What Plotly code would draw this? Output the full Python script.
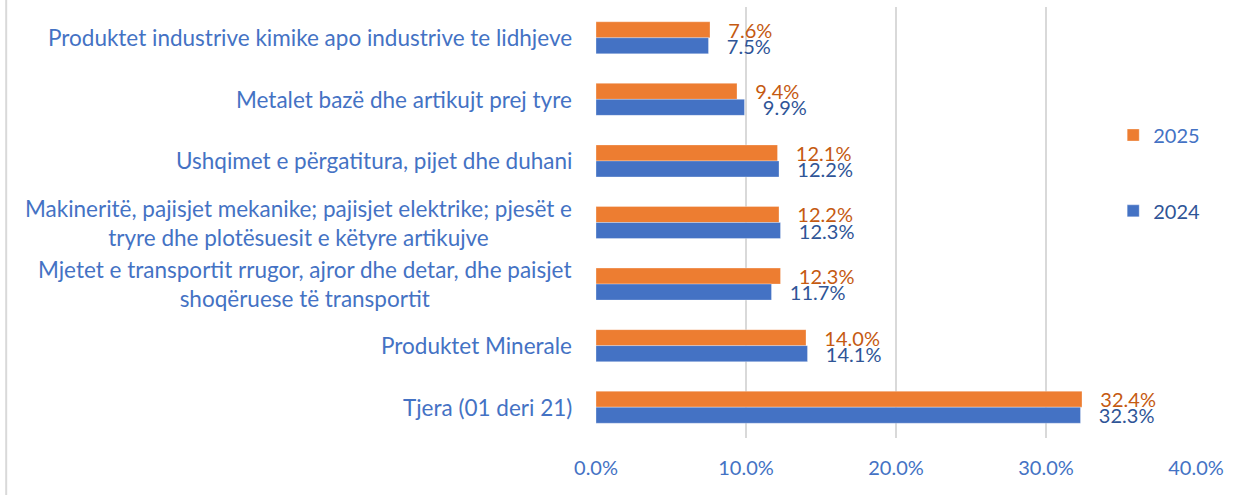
import plotly.graph_objects as go

categories = [
    "Produktet industrive kimike apo industrive te lidhjeve",
    "Metalet bazë dhe artikujt prej tyre",
    "Ushqimet e përgatitura, pijet dhe duhani",
    "Makineritë, pajisjet mekanike; pajisjet elektrike; pjesët e tryre dhe plotësuesit e këtyre artikujve",
    "Mjetet e transportit rrugor, ajror dhe detar, dhe paisjet shoqëruese të transportit",
    "Produktet Minerale",
    "Tjera (01 deri 21)",
]
category_labels = [
    "Produktet industrive kimike apo industrive te lidhjeve",
    "Metalet bazë dhe artikujt prej tyre",
    "Ushqimet e përgatitura, pijet dhe duhani",
    "Makineritë, pajisjet mekanike; pajisjet elektrike; pjesët e<br>tryre dhe plotësuesit e këtyre artikujve",
    "Mjetet e transportit rrugor, ajror dhe detar, dhe paisjet<br>shoqëruese të transportit",
    "Produktet Minerale",
    "Tjera (01 deri 21)",
]
values_2025 = [0.076, 0.094, 0.121, 0.122, 0.123, 0.140, 0.324]
values_2024 = [0.075, 0.099, 0.122, 0.123, 0.117, 0.141, 0.323]
x_ticks = [0.0, 0.1, 0.2, 0.3, 0.4]

FONT = "Lato"
ORANGE = "#ED7D31"
BLUE = "#4472C4"
PAD = "\u00a0\u00a0\u00a0"

fig = go.Figure()
fig.add_trace(go.Bar(
    name="2025", y=categories, x=values_2025, orientation="h",
    marker=dict(color=ORANGE, line=dict(color="rgba(255,255,255,0.6)", width=0.5)),
    texttemplate=PAD + "%{x:.1%}", textposition="outside", cliponaxis=False,
    constraintext="none",
    textfont=dict(family=FONT, size=20, color="#C55A11"),
    legend="legend",
))
fig.add_trace(go.Bar(
    name="2024", y=categories, x=values_2024, orientation="h",
    marker=dict(color=BLUE, line=dict(color="rgba(255,255,255,0.6)", width=0.5)),
    texttemplate=PAD + "%{x:.1%}", textposition="outside", cliponaxis=False,
    constraintext="none",
    textfont=dict(family=FONT, size=20, color="#2F5597"),
    legend="legend2",
))

annotations = []
for cat, lab in zip(categories, category_labels):
    annotations.append(dict(
        x=-0.036, xref="paper", y=cat, yref="y", text=lab, showarrow=False,
        xanchor="right", yanchor="middle", align="center",
        font=dict(family=FONT, size=22.5, color=BLUE),
    ))

fig.update_layout(
    width=1233, height=495,
    margin=dict(l=596, r=37, t=7, b=57),
    paper_bgcolor="white", plot_bgcolor="white",
    barmode="group", bargap=0.48, bargroupgap=0,
    font=dict(family=FONT, size=20, color=BLUE),
    showlegend=True,
    xaxis=dict(
        range=[0, 0.4], tickvals=x_ticks, tickformat=".1%",
        showgrid=True, gridcolor="#D9D9D9", gridwidth=1.5,
        zeroline=False, showline=False, ticks="",
        ticklabelstandoff=16,
        tickfont=dict(family=FONT, size=20, color=BLUE),
    ),
    yaxis=dict(
        autorange="reversed", showticklabels=False, showgrid=False,
        zeroline=False, showline=False, ticks="",
    ),
    legend=dict(x=0.862, y=0.703, xanchor="left", yanchor="middle",
                font=dict(family=FONT, size=20, color=BLUE), bgcolor="rgba(0,0,0,0)"),
    legend2=dict(x=0.862, y=0.527, xanchor="left", yanchor="middle",
                 font=dict(family=FONT, size=20, color="#2F5597"), bgcolor="rgba(0,0,0,0)"),
    annotations=annotations,
    shapes=[dict(type="line", xref="paper", yref="paper", x0=-0.983, x1=-0.983,
                 y0=-0.14, y1=1.02, line=dict(color="#D9D9D9", width=2))],
)

fig.write_html("out.html", config={"displayModeBar": False},
               post_script="document.body.style.margin='0px';")
